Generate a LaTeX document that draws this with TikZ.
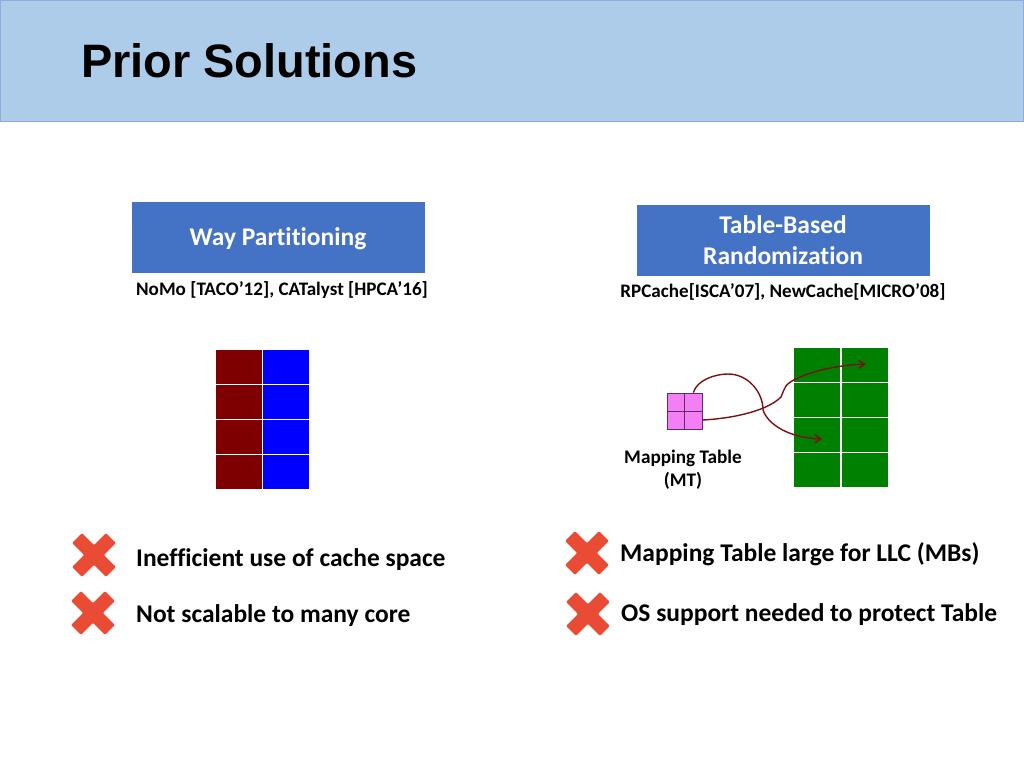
\documentclass[tikz,border=0pt]{standalone}
\usepackage{fontspec}
\setmainfont[Ligatures=NoCommon]{Carlito}
\newfontfamily\titlefont{Liberation Sans}
\usetikzlibrary{arrows.meta}

\definecolor{headerblue}{HTML}{ADCCE9}
\definecolor{headerline}{HTML}{8FAADC}
\definecolor{boxblue}{HTML}{4472C4}
\definecolor{wayred}{HTML}{7F0000}
\definecolor{waygreen}{HTML}{008000}
\definecolor{mtpink}{HTML}{F47FF4}
\definecolor{mtline}{HTML}{5B2C6F}
\definecolor{linkred}{HTML}{7B1010}
\definecolor{crossred}{HTML}{E94B35}

\tikzset{
    headbox/.style={draw=boxblue, fill=boxblue, minimum width=292pt, minimum height=70pt, inner sep=0pt},
    headtext/.style={text=white, inner sep=0pt, align=center, font=\fontsize{25.5}{31}\selectfont\bfseries},
    cite/.style={inner sep=0pt, font=\fontsize{19.1}{23}\selectfont\bfseries},
    point/.style={inner sep=0pt, anchor=west, font=\fontsize{25.5}{30}\selectfont\bfseries},
    waycell/.style={draw=white, line width=0.9pt, minimum width=47pt, minimum height=35pt, inner sep=0pt},
    mtcell/.style={draw=mtline, line width=0.8pt, fill=mtpink, minimum width=17.5pt, minimum height=18pt, inner sep=0pt},
    link/.style={draw=linkred, line width=1.4pt, -{Straight Barb[length=6pt,width=8pt]}},
    crossmark/.pic={
        \fill[crossred, rounded corners=1pt, rotate=45] (-24,-7) -- (-7,-7) -- (-7,-24) -- (7,-24) -- (7,-7) -- (24,-7) -- (24,7) -- (7,7) -- (7,24) -- (-7,24) -- (-7,7) -- (-24,7) -- cycle;
    }
}

\begin{document}
\begin{tikzpicture}[x=1pt, y=-1pt]
    \useasboundingbox (0,0) rectangle (1024,768);

    % title bar
    \node[draw=headerline, fill=headerblue, minimum width=1023pt, minimum height=121pt, inner sep=0pt] (header) at (512,61) {};
    \node[anchor=base west, inner sep=0pt, font=\fontsize{46.9}{50}\selectfont\bfseries\titlefont] (title) at (81,77.5) {Prior Solutions};

    % the two schemes
    \node[headbox] (way) at (277.7,236.8) {};
    \node[headbox] (table) at (782.7,239.8) {};
    \node[headtext] (waytext) at (278,238.5) {Way Partitioning};
    \node[headtext] (tabletext) at (783,240.5) {Table-Based\\Randomization};
    \node[cite] (waycite) at (282,290) {NoMo [TACO’12], CATalyst [HPCA’16]};
    \node[cite] (tablecite) at (783,292) {RPCache[ISCA’07], NewCache[MICRO’08]};

    % partitioned cache
    \foreach \row in {1,...,4} {
        \node[waycell, fill=wayred] (w\row1) at (238.5,332+35*\row) {};
        \node[waycell, fill=blue] (w\row2) at (286.2,332+35*\row) {};
    }

    % randomized cache
    \foreach \row in {1,...,4} {
        \node[waycell, fill=waygreen] (g\row1) at (817.4,330+35*\row) {};
        \node[waycell, fill=waygreen] (g\row2) at (864.6,330+35*\row) {};
    }

    % mapping table
    \node[mtcell] (mt11) at (675.8,402) {};
    \node[mtcell] (mt12) at (693.3,402) {};
    \node[mtcell] (mt21) at (675.8,420) {};
    \node[mtcell] (mt22) at (693.3,420) {};
    \node[inner sep=0pt, align=center, font=\fontsize{19.2}{23}\selectfont\bfseries] (mtlabel) at (683,470) {Mapping Table\\(MT)};

    \coordinate (upperend) at (866,364);
    \coordinate (lowerend) at (822,439);
    \draw[link] (mt12.north) .. controls (697,380) and (715,374) .. (728,374) .. controls (748,374) and (763,392) .. (763,410) .. controls (768,425) and (790,438) .. (lowerend);
    \draw[link] (mt22.east) .. controls (725,419) and (765,413) .. (781,397) .. controls (785,388) and (784,384) .. (798,378) .. controls (815,370) and (840,365) .. (upperend);

    % drawbacks
    \pic at (94,555) {crossmark};
    \pic at (93,613) {crossmark};
    \pic at (587,553) {crossmark};
    \pic at (588,614) {crossmark};
    \node[point] (waybad1) at (136,559.5) {Inefficient use of cache space};
    \node[point] (waybad2) at (136,615.5) {Not scalable to many core};
    \node[point] (tablebad1) at (620,554.5) {Mapping Table large for LLC (MBs)};
    \node[point] (tablebad2) at (621,614.5) {OS support needed to protect Table};
\end{tikzpicture}
\end{document}
